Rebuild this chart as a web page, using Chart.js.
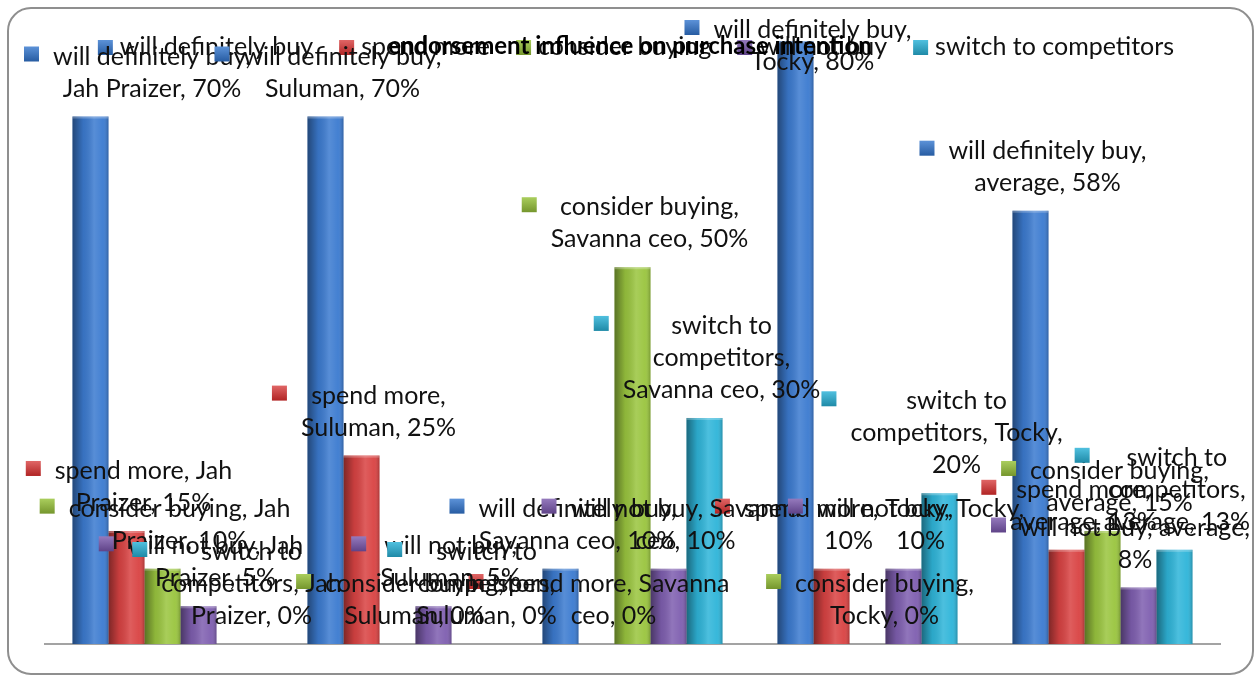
<!DOCTYPE html>
<html>
<head>
<meta charset="utf-8">
<script src="https://cdn.jsdelivr.net/npm/chart.js@4.4.1/dist/chart.umd.min.js"></script>
<style>
  html, body { margin: 0; padding: 0; background: #fff; }
  #wrap { position: relative; width: 1255px; height: 677px; overflow: hidden; }
  #frame { position: absolute; left: 7px; top: 7px; width: 1243px; height: 664px;
           border: 2px solid #8f8f8f; border-radius: 24px; pointer-events: none; }
  canvas { position: absolute; left: 0; top: 0; }
</style>
</head>
<body>
<div id="wrap">
  <canvas id="chart" width="1255" height="677"></canvas>
  <div id="frame"></div>
</div>
<script>
const categories = ['Jah Praizer', 'Suluman', 'Savanna ceo', 'Tocky', 'average'];
const seriesNames = ['will definitely buy', 'spend more', 'consider buying', 'will not buy', 'switch to competitors'];

const willDefinitelyBuy   = [70, 70, 10, 80, 57.5];
const spendMore           = [15, 25, 0, 10, 12.5];
const considerBuying      = [10, 0, 50, 0, 15];
const willNotBuy          = [5, 5, 10, 10, 7.5];
const switchToCompetitors = [0, 0, 30, 20, 12.5];

const seriesColors = ['#3c7bd0', '#d94343', '#9ac53f', '#7f5fb0', '#2fb5d9'];

const chartTitle = 'endorsement influence on purchase intention';

// words per line of each data label, the way the original wrapped them
const labelBreaks = [
  [[3], [3], [3], [3], [3]],
  [[3], [2], [3], [3], [2]],
  [[3], [2], [2], [2], [2]],
  [[4], [3], [4], [4], [4]],
  [[2, 2], [2, 1], [2, 1], [2, 2], [2, 1]],
];

const FONT = '25px Lato';
const LINE_H = 32;

function wrapLines(text, breaks) {
  const words = text.split(' ');
  const lines = [];
  let i = 0;
  for (const n of breaks) {
    lines.push(words.slice(i, i + n).join(' '));
    i += n;
  }
  if (i < words.length) lines.push(words.slice(i).join(' '));
  return lines;
}

function drawKey(ctx, x, y, size, color) {
  const g = ctx.createLinearGradient(0, y, 0, y + size);
  g.addColorStop(0, Chart.helpers.color(color).lighten(0.15).rgbString());
  g.addColorStop(1, Chart.helpers.color(color).darken(0.25).rgbString());
  ctx.fillStyle = g;
  ctx.fillRect(x, y, size, size);
}

// cylinder-ish shading on top of each bar
const barShade = {
  id: 'barShade',
  afterDatasetsDraw(chart) {
    const ctx = chart.ctx;
    chart.data.datasets.forEach((ds, s) => {
      chart.getDatasetMeta(s).data.forEach(bar => {
        const h = bar.base - bar.y;
        if (h <= 0.5) return;
        const left = bar.x - bar.width / 2;
        const g = ctx.createLinearGradient(left, 0, left + bar.width, 0);
        g.addColorStop(0, 'rgba(0,0,0,0.42)');
        g.addColorStop(0.3, 'rgba(0,0,0,0.08)');
        g.addColorStop(0.6, 'rgba(255,255,255,0.14)');
        g.addColorStop(0.85, 'rgba(255,255,255,0.04)');
        g.addColorStop(1, 'rgba(0,0,0,0.22)');
        ctx.save();
        ctx.fillStyle = g;
        ctx.fillRect(left, bar.y, bar.width, h);
        ctx.fillStyle = 'rgba(255,255,255,0.25)';
        ctx.fillRect(left, bar.y, bar.width, 2);
        ctx.restore();
      });
    });
  }
};

const overlayText = {
  id: 'overlayText',
  afterDraw(chart) {
    const ctx = chart.ctx;
    ctx.save();
    ctx.font = FONT;
    ctx.textBaseline = 'middle';
    ctx.fillStyle = '#111';

    // legend row
    const items = chart.data.datasets.map(ds => ({ label: ds.label, color: ds.backgroundColor, w: 15 + 7 + ctx.measureText(ds.label).width }));
    const gap = 26;
    const total = items.reduce((a, it) => a + it.w, 0) + gap * (items.length - 1);
    let lx = 636 - total / 2;
    items.forEach(it => {
      drawKey(ctx, lx, 40, 15, it.color);
      ctx.fillStyle = '#111';
      ctx.textAlign = 'left';
      ctx.fillText(it.label, lx + 22, 47);
      lx += it.w + gap;
    });

    // data labels
    chart.data.datasets.forEach((ds, s) => {
      chart.getDatasetMeta(s).data.forEach((bar, c) => {
        const v = ds.data[c];
        const lines = wrapLines(`${ds.label}, ${categories[c]}, ${Math.round(v)}%`, labelBreaks[s][c]);
        const maxW = Math.max(...lines.map(l => ctx.measureText(l).width));
        let cx = bar.x + 17;
        let y0 = bar.y - 28 - (lines.length - 1) * LINE_H;
        if (y0 < 30) y0 = 30;
        const leftEdge = cx - maxW / 2 - 14 - 15;
        if (leftEdge < 24) cx += 24 - leftEdge;
        if (cx + maxW / 2 > 1250) cx = 1250 - maxW / 2;
        drawKey(ctx, cx - maxW / 2 - 14 - 15, y0 - 10, 15, ds.backgroundColor);
        ctx.fillStyle = '#111';
        ctx.textAlign = 'center';
        lines.forEach((l, i) => ctx.fillText(l, cx, y0 + i * LINE_H));
      });
    });

    // title
    ctx.font = 'bold 24px Lato';
    ctx.textAlign = 'center';
    ctx.fillStyle = '#000';
    ctx.fillText(chartTitle, 630, 46);
    ctx.restore();
  }
};

const seriesValues = [willDefinitelyBuy, spendMore, considerBuying, willNotBuy, switchToCompetitors];

new Chart(document.getElementById('chart'), {
  type: 'bar',
  data: {
    labels: categories,
    datasets: seriesNames.map((name, i) => ({
      label: name,
      data: seriesValues[i],
      backgroundColor: seriesColors[i],
      borderWidth: 0,
      barPercentage: 1,
      categoryPercentage: 0.766,
    })),
  },
  options: {
    responsive: false,
    animation: false,
    layout: { padding: { left: 45, right: 35, top: 11, bottom: 33 } },
    scales: {
      x: {
        grid: { display: false, drawTicks: false },
        ticks: { display: false },
        border: { color: '#a3a3a3', width: 2 },
      },
      y: { display: false, min: 0, max: 84 },
    },
    plugins: {
      legend: { display: false },
      title: { display: false },
      tooltip: { enabled: false },
    },
  },
  plugins: [barShade, overlayText],
});
</script>
</body>
</html>
